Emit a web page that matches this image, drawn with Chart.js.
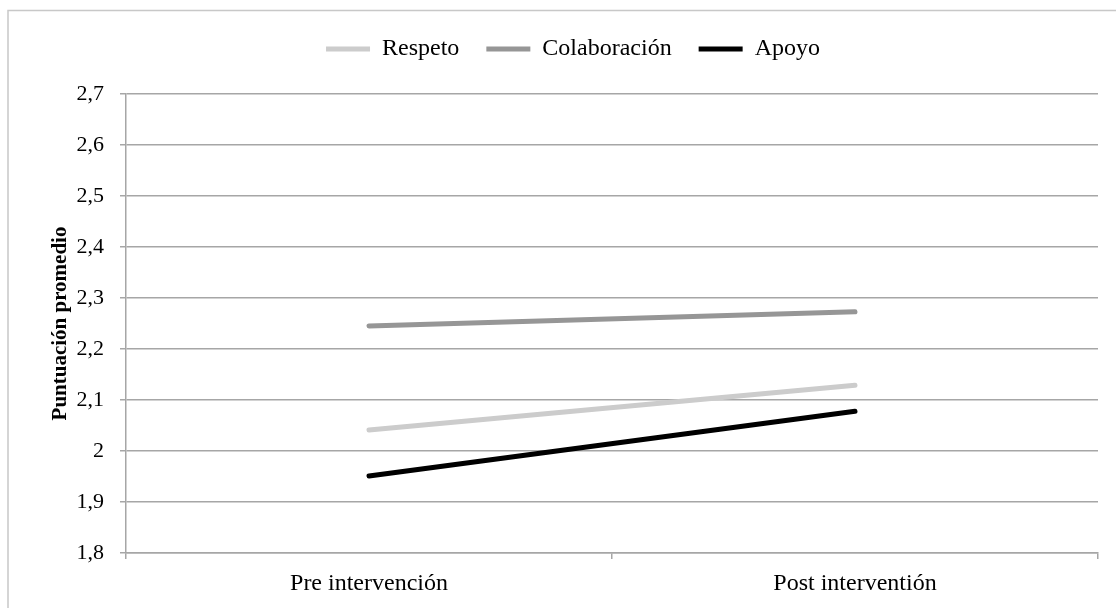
<!DOCTYPE html>
<html>
<head>
<meta charset="utf-8">
<script src="https://cdn.jsdelivr.net/npm/chart.js@4.4.1/dist/chart.umd.min.js"></script>
<style>
  html, body { margin: 0; padding: 0; background: #fff; }
  #wrap { width: 1116px; height: 608px; }
</style>
</head>
<body>
<div id="wrap"><canvas id="chart_puntuacion" width="1116" height="608"></canvas></div>
<script>
// values
var categories = ['Pre intervención', 'Post interventión'];
var respeto = [2.041, 2.129];
var colaboracion = [2.245, 2.273];
var apoyo = [1.951, 2.078];

var yMin = 1.8, yMax = 2.7, yStep = 0.1;

var gridGray = '#a6a6a6';
var serif = "'Liberation Serif', 'Times New Roman', serif";

function fmtComma(v) {
    return String(Number(v.toFixed(1))).replace('.', ',');
}

var chart_puntuacion = new Chart(document.getElementById('chart_puntuacion'), {
    type: 'line',
    data: {
        labels: categories,
        datasets: [
            {
                label: 'Respeto',
                data: respeto,
                borderColor: '#cccccc',
                backgroundColor: '#cccccc',
                borderWidth: 5,
                borderCapStyle: 'round',
                pointRadius: 0
            },
            {
                label: 'Colaboración',
                data: colaboracion,
                borderColor: '#969696',
                backgroundColor: '#969696',
                borderWidth: 5,
                borderCapStyle: 'round',
                pointRadius: 0
            },
            {
                label: 'Apoyo',
                data: apoyo,
                borderColor: '#000000',
                backgroundColor: '#000000',
                borderWidth: 5,
                borderCapStyle: 'round',
                pointRadius: 0
            }
        ]
    },
    options: {
        animation: false,
        responsive: false,
        maintainAspectRatio: false,
        layout: {
            padding: { top: 10, right: 18, left: 48, bottom: 0 }
        },
        plugins: {
            tooltip: { enabled: false },
            legend: {
                position: 'top',
                labels: {
                    boxWidth: 44,
                    boxHeight: 5,
                    padding: 27,
                    color: '#000',
                    font: { family: serif, size: 24 },
                    generateLabels: function (chart) {
                        return chart.data.datasets.map(function (ds, i) {
                            return {
                                text: ds.label,
                                fillStyle: ds.borderColor,
                                strokeStyle: ds.borderColor,
                                lineWidth: 0,
                                datasetIndex: i
                            };
                        });
                    }
                }
            }
        },
        scales: {
            x: {
                offset: true,
                border: { display: true, color: gridGray, width: 1.5 },
                grid: {
                    display: true,
                    offset: true,
                    drawOnChartArea: false,
                    drawTicks: true,
                    tickLength: 6,
                    color: gridGray,
                    lineWidth: 1.5
                },
                ticks: {
                    color: '#000',
                    padding: 10,
                    font: { family: serif, size: 24 }
                },
                afterFit: function (s) { s.height = 55; }
            },
            y: {
                min: yMin,
                max: yMax,
                border: { display: true, color: gridGray, width: 1.5 },
                grid: {
                    color: gridGray,
                    lineWidth: 1.5,
                    tickLength: 6
                },
                ticks: {
                    stepSize: yStep,
                    color: '#000',
                    padding: 16,
                    font: { family: serif, size: 22 },
                    callback: function (v) { return fmtComma(v); }
                },
                title: {
                    display: true,
                    text: 'Puntuación promedio',
                    color: '#000',
                    font: { family: serif, size: 21, weight: 'bold' },
                    padding: 0
                },
                afterFit: function (s) { s.width = 78; }
            }
        }
    },
    plugins: [{
        id: 'legendHeight',
        beforeInit: function (chart) {
            var fit = chart.legend.fit;
            chart.legend.fit = function () {
                fit.bind(chart.legend)();
                this.height = 84;
            };
        }
    }, {
        id: 'frame',
        beforeDraw: function (chart) {
            var ctx = chart.ctx;
            ctx.save();
            ctx.fillStyle = 'white';
            ctx.fillRect(0, 0, chart.width, chart.height);
            ctx.strokeStyle = '#c8c8c8';
            ctx.lineWidth = 1.5;
            ctx.strokeRect(8, 10.5, chart.width + 20, chart.height + 20);
            ctx.restore();
        }
    }]
});
</script>
</body>
</html>
